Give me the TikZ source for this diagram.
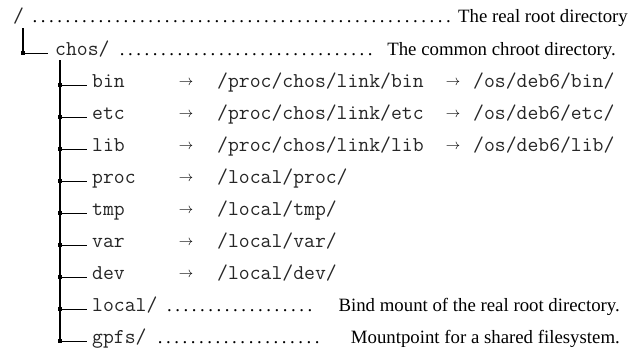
\documentclass[tikz,border=0pt]{standalone}
\usepackage{fontspec}
\setmainfont{Liberation Serif}
\begin{document}
\begin{tikzpicture}[x=1pt,y=-1pt,
  tt/.style={anchor=base west, inner sep=0pt, text=black!85, font=\fontsize{21.1}{24}\selectfont\ttfamily},
  desc/.style={anchor=base east, inner sep=0pt, font=\fontsize{18.8}{22}\selectfont},
  arr/.style={anchor=base, inner sep=0pt, font=\fontsize{15.5}{18}\selectfont},
  leader/.style={anchor=base west, inner sep=0pt, font=\fontsize{18.8}{22}\selectfont},
  treeline/.style={line width=1.1pt},
  branch/.style={line width=0.9pt},
  knot/.style={fill, rectangle, minimum size=4.2pt, inner sep=0pt}]
\useasboundingbox (0,0) rectangle (643,348);

% root entry
\node[tt] (root) at (13,23) {/};
\node[leader] (rootdots) at (30,23) {\hbox to 423pt{\dotfill}};
\node[desc] (rootdesc) at (628,23) {The real root directory};

% chos entry
\node[tt] (chos) at (55,55) {chos/};
\node[leader] (chosdots) at (115,55) {\hbox to 262pt{\dotfill}};
\node[desc] (chosdesc) at (616,55) {The common chroot directory.};
\coordinate (rootstem) at (23,28);
\coordinate (kchos) at (23,53);
\coordinate (echos) at (48,53);
\draw[treeline] (rootstem) -- (kchos);
\draw[branch] (kchos) -- (echos);
\node[knot] (knotchos) at (kchos) {};

% children of chos
\foreach \n/\b in {bin/87, etc/119, lib/151, proc/183, tmp/215, var/247, dev/279} {
  \node[tt] (\n) at (92,\b) {\n};
}
\node[tt] (local) at (92,311) {local/};
\node[tt] (gpfs) at (92,343) {gpfs/};
\foreach \n/\b in {bin/87, etc/119, lib/151, proc/183, tmp/215, var/247, dev/279, local/311, gpfs/343} {
  \coordinate (k\n) at (60,\b-2);
  \coordinate (e\n) at (87,\b-2);
}
\coordinate (chosstem) at (60,60);
\draw[treeline] (chosstem) -- (kgpfs);
\foreach \n in {bin, etc, lib, proc, tmp, var, dev, local, gpfs} {
  \draw[branch] (k\n) -- (e\n);
  \node[knot] (knot\n) at (k\n) {};
}

% symbolic links through /proc/chos/link
\foreach \n/\b in {bin/87, etc/119, lib/151} {
  \node[arr] (a\n) at (186,\b-2) {$\rightarrow$};
  \node[tt] (p\n) at (217,\b) {/proc/chos/link/\n};
  \node[arr] (b\n) at (453,\b-2) {$\rightarrow$};
  \node[tt] (o\n) at (473,\b) {/os/deb6/\n/};
}

% symbolic links into /local
\foreach \n/\b in {proc/183, tmp/215, var/247, dev/279} {
  \node[arr] (a\n) at (186,\b-2) {$\rightarrow$};
  \node[tt] (l\n) at (217,\b) {/local/\n/};
}

% mount points
\node[leader] (localdots) at (162,311) {\hbox to 155pt{\dotfill}};
\node[desc] (localdesc) at (620,311) {Bind mount of the real root directory.};
\node[leader] (gpfsdots) at (152,343) {\hbox to 173pt{\dotfill}};
\node[desc] (gpfsdesc) at (620,343) {Mountpoint for a shared filesystem.};
\end{tikzpicture}
\end{document}
